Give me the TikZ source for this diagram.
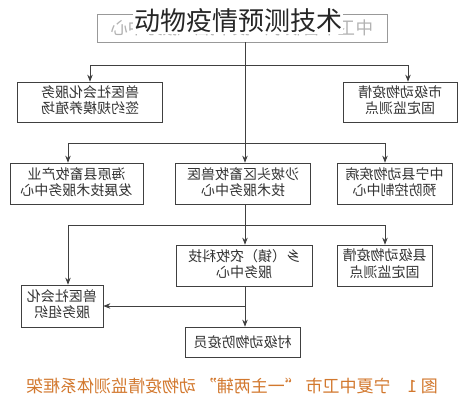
\documentclass[tikz,border=0pt]{standalone}
\usepackage{fontspec}
\usepackage{tikz}
\usetikzlibrary{calc,arrows.meta}
\newfontfamily\cjk{Noto Sans CJK SC}
\definecolor{capcolor}{HTML}{D2782E}
\newcommand{\flip}[1]{\scalebox{-1}[1]{#1}}
\newcommand{\fliptwo}[2]{\scalebox{-1}[1]{\begin{tabular}{@{}c@{}}#1\\#2\end{tabular}}}
\tikzstyle{unit}  = [draw=black!75, line width=0.7pt, inner sep=0pt, text=black!80, font=\cjk\fontsize{14}{15}\selectfont]
\tikzstyle{link}  = [line width=0.7pt, draw=black!75]
\tikzstyle{arrow} = [link, -{Stealth[length=7pt,width=5.5pt]}]

\begin{document}
\begin{tikzpicture}[x=1pt,y=-1pt]
        \useasboundingbox (0,0) rectangle (474,400);

        % top unit and title
        \node[unit, draw=black!40, text=black!30, minimum width=290, minimum height=28, font=\cjk\fontsize{17.5}{19}\selectfont] (city) at (242,28) {\flip{中卫市畜牧水产技术推广服务中心}};
        \node[fill=white, inner sep=1pt, text=black!85, font=\cjk\fontsize{26}{28}\selectfont] (title) at (238,21) {动物疫情预测技术};

        % level 1
        \node[unit, minimum width=145, minimum height=40] (vetsign) at (90,102) {\fliptwo{兽医社会化服务}{签约规模养殖场}};
        \node[unit, minimum width=114, minimum height=40] (citypt) at (400,102) {\fliptwo{市级动物疫情}{固定监测点}};

        % level 2
        \node[unit, minimum width=133, minimum height=41] (haiyuan) at (76.5,183.5) {\fliptwo{海原县畜牧产业}{发展技术服务中心}};
        \node[unit, minimum width=135, minimum height=41] (shapotou) at (243,183.5) {\fliptwo{沙坡头区畜牧兽医}{技术服务中心}};
        \node[unit, minimum width=115, minimum height=41] (zhongning) at (394.5,183.5) {\fliptwo{中宁县动物疾病}{预防控制中心}};

        % level 3
        \node[unit, minimum width=136, minimum height=41] (town) at (244,265.5) {\fliptwo{乡（镇）农牧科技}{服务中心}};
        \node[unit, minimum width=95, minimum height=41] (countypt) at (384.5,265.5) {\fliptwo{县级动物疫情}{固定监测点}};

        % level 4
        \node[unit, minimum width=82, minimum height=42] (vetorg) at (62,306) {\fliptwo{兽医社会化}{服务组织}};
        \node[unit, minimum width=115, minimum height=30] (village) at (242.5,342) {\flip{村级动物防疫员}};

        % caption
        \node[text=capcolor, font=\cjk\fontsize{17}{19}\selectfont] (caption) at (232,386) {\flip{图 1\quad 宁夏中卫市 “一主两辅” 动物疫情监测体系框架}};

        % junctions
        \coordinate (j1) at (245,65);
        \coordinate (j2) at (245,143);
        \coordinate (h2L) at (68,143);
        \coordinate (h2R) at (385,143);
        \coordinate (j3) at (245,225);
        \coordinate (h3L) at (68,225);
        \coordinate (h3R) at (385,225);
        \coordinate (j4) at (245,306);

        \draw[link] (city.south -| j1) -- (j2);
        \draw[arrow] (j1) -| (vetsign.north);
        \draw[arrow] (j1) -| ([xshift=8]citypt.north);

        \draw[link] (h2L) -- (h2R);
        \draw[arrow] (h2L) -- (h2L |- haiyuan.north);
        \draw[arrow] (j2) -- (j2 |- shapotou.north);
        \draw[arrow] (h2R) -- (h2R |- zhongning.north);

        \draw[link] (shapotou.south -| j3) -- (j3);
        \draw[link] (h3L) -- (h3R);
        \draw[arrow] (j3) -- (j3 |- town.north);
        \draw[arrow] (h3R) -- (h3R |- countypt.north);
        \draw[arrow] (h3L) -- (h3L |- vetorg.north);

        \draw[link] (town.south -| j4) -- (j4);
        \draw[arrow] (j4) -- (j4 |- village.north);
        \draw[arrow] (j4) -- (vetorg.east);
    \end{tikzpicture}
\end{document}
